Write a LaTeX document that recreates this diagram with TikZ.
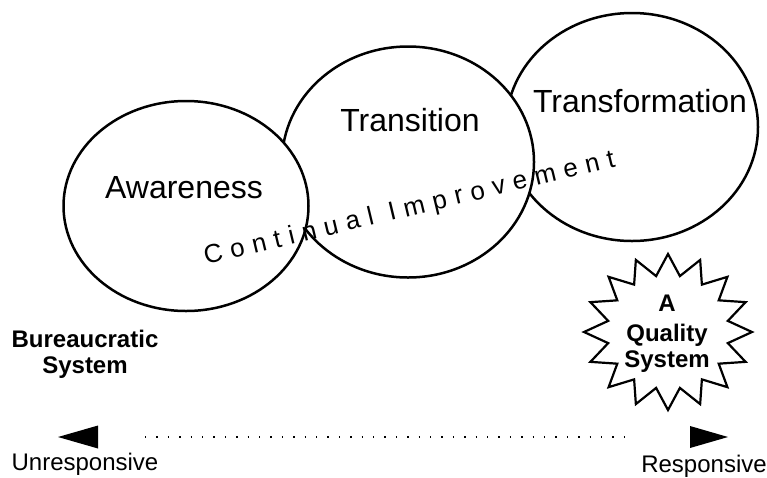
\documentclass[tikz,border=0pt]{standalone}
\usepackage{fontspec}
\setmainfont{Liberation Sans}
\usetikzlibrary{shapes.geometric}
\newcommand{\ls}{\kern8pt}
\begin{document}
\begin{tikzpicture}[x=1pt,y=-1pt,
  bubble/.style={ellipse, draw=black, fill=white, line width=2.5pt, inner sep=0pt},
  biglabel/.style={font=\fontsize{32}{36}\selectfont, anchor=base, inner sep=0pt},
  boldlabel/.style={font=\bfseries\fontsize{24}{26}\selectfont, align=center, anchor=north, inner sep=0pt},
  endlabel/.style={font=\fontsize{24}{28}\selectfont, anchor=base, inner sep=0pt},
  starline/.style={draw=black, line width=2.2pt, line join=miter, fill=white},
  dotline/.style={line width=1.4pt, dash pattern=on 1.4pt off 10pt},
  arrowhead/.style={fill=black}
]
\useasboundingbox[fill=white] (0,0) rectangle (767,477);
% bubbles (back to front)
\node[bubble, minimum width=252pt, minimum height=228pt] (tf) at (632,127) {};
\node[bubble, minimum width=252pt, minimum height=231pt] (tr) at (408,162) {};
\node[bubble, minimum width=245pt, minimum height=210pt] (aw) at (186,206) {};
% bubble labels
\node[biglabel] (awl) at (184,198) {Awareness};
\node[biglabel] (trl) at (410,131) {Transition};
\node[biglabel] (tfl) at (640,112) {Transformation};
% continual improvement
\node[anchor=base west, rotate=13.5, inner sep=0pt, font=\fontsize{26}{26}\selectfont] (ci) at (206,265)
  {C\ls o\ls n\ls t\ls i\ls n\ls u\ls a\ls l\ls\ls I\ls m\ls p\ls r\ls o\ls v\ls e\ls m\ls e\ls n\ls t};
% starburst
\draw[starline] (668,254) \foreach \k in {1,...,31}{
  -- ({668+(mod(\k,2)==1 ? 61 : 84)*cos(90+11.25*\k)}, {332-(mod(\k,2)==1 ? 57 : 78)*sin(90+11.25*\k)}) } -- cycle;
\node[boldlabel] (qs) at (667,295) {A\\[4pt]Quality\\System};
\node[boldlabel] (bs) at (85,330) {Bureaucratic\\System};
% bottom scale
\coordinate (la) at (98,437);
\coordinate (ra) at (690,437);
\fill[arrowhead] (la) ++(0,-11.5) -- ++(0,23) -- ++(-40,-11.5) -- cycle;
\fill[arrowhead] (ra) ++(0,-11) -- ++(0,22) -- ++(38,-11) -- cycle;
\draw[dotline, shorten <=47pt, shorten >=55pt] (la) -- (ra);
\node[endlabel] (unr) at (85,470) {Unresponsive};
\node[endlabel] (res) at (704,472) {Responsive};
\end{tikzpicture}
\end{document}
